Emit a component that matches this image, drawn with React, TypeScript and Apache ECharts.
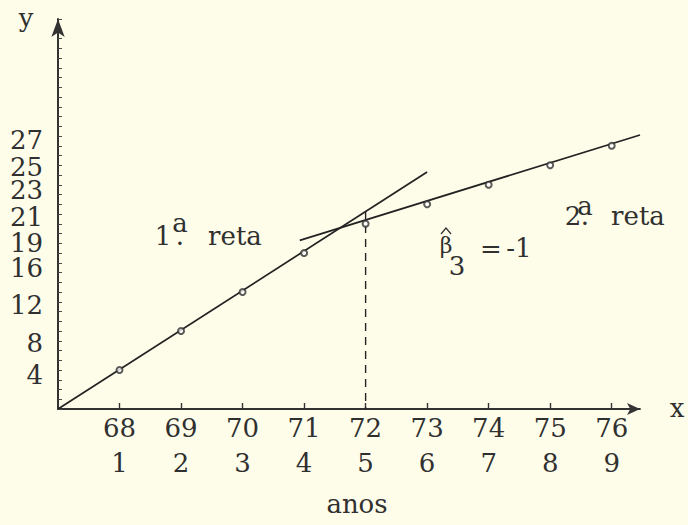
import React, { useEffect, useRef } from "react";
import * as echarts from "echarts";

// Years (two-digit) and their period index along the horizontal axis
const years = ["68", "69", "70", "71", "72", "73", "74", "75", "76"];
const periods = [1, 2, 3, 4, 5, 6, 7, 8, 9];
// Observed values y for each period
const yValues = [4, 8, 12, 16, 19, 21, 23, 25, 27];
// Values labelled on the vertical axis, spread over three label rows so close ones all stay visible
const yTicksA = [4, 12, 21, 27];
const yTicksB = [8, 16, 23];
const yTicksC = [19, 25];

// First fitted line (periods 1-4) and second fitted line (periods 5-9)
const reta1X = [0, 6];
const reta1Y = [0, 24.3];
const reta2X = [3.93, 9.46];
const reta2Y = [17.3, 28.1];

// Break point marked with a dashed vertical line
const breakX = 5;
const breakTop = 20.3;

const INK = "#303030";
const PAPER = "#fefdea";
const FONT = "DejaVu Serif, Liberation Serif, serif";
const FS = 26;

// Hand-typed label placement: vertical nudge (px, + = down) of each y label
const yLabelNudge: Record<number, number> = {
  4: 5,
  8: 12,
  12: 13,
  16: 15,
  19: 19,
  21: 13,
  23: 5,
  25: 2,
  27: -6,
};

const yRich: Record<string, any> = {};
Object.keys(yLabelNudge).forEach((k) => {
  const s = yLabelNudge[Number(k)];
  yRich[`l${k}`] = {
    fontFamily: FONT,
    fontSize: FS,
    color: INK,
    lineHeight: 20,
    padding: s >= 0 ? [2 * s, 0, 0, 0] : [0, 0, -2 * s, 0],
  };
});

const txt = (
  text: string,
  x: number,
  y: number,
  size: number,
  align: "left" | "center" | "right" = "center",
  lineHeight?: number
) => ({
  type: "text",
  silent: true,
  style: {
    text,
    x,
    y,
    font: `${size}px ${FONT}`,
    fill: INK,
    align,
    textAlign: align,
    verticalAlign: "middle",
    textVerticalAlign: "middle",
    ...(lineHeight ? { lineHeight } : {}),
  },
});

const yAxisBase = (labels: number[], main: boolean) => ({
  type: "value",
  position: "left",
  min: 0,
  max: 40,
  interval: 1,
  splitLine: { show: false },
  axisLine: {
    show: main,
    symbol: ["none", "arrow"],
    symbolSize: [10, 18],
    lineStyle: { color: "#333", width: 2 },
  },
  axisTick: {
    show: main,
    inside: true,
    length: 4,
    lineStyle: { color: "#444", width: 1 },
  },
  axisLabel: {
    customValues: labels,
    margin: 15,
    hideOverlap: false,
    showMinLabel: true,
    showMaxLabel: true,
    formatter: (v: number) => `{l${v}|${v}}`,
    rich: yRich,
  },
});

export default function App() {
  const ref = useRef<HTMLDivElement>(null);

  useEffect(() => {
    if (!ref.current) return;
    const chart = echarts.init(ref.current, null, { renderer: "svg" });

    const option = {
      animation: false,
      backgroundColor: PAPER,
      grid: { left: 58, right: 48, top: 19, bottom: 116, containLabel: false },
      xAxis: {
        type: "value",
        min: 0,
        max: 9.46,
        interval: 1,
        splitLine: { show: false },
        axisLine: {
          show: true,
          symbol: ["none", "arrow"],
          symbolSize: [9, 13],
          lineStyle: { color: "#333", width: 1.8 },
        },
        axisTick: {
          show: true,
          inside: true,
          length: 6,
          customValues: periods,
          lineStyle: { color: "#333", width: 1.4 },
        },
        axisLabel: {
          customValues: periods,
          margin: 1.5,
          fontFamily: FONT,
          fontSize: FS,
          lineHeight: 35,
          color: INK,
          formatter: (v: number) => {
            const i = periods.indexOf(v);
            return i < 0 ? "" : `${years[i]}\n${periods[i]}`;
          },
        },
      },
      yAxis: [
        yAxisBase(yTicksA, true),
        yAxisBase(yTicksB, false),
        yAxisBase(yTicksC, false),
      ],
      series: [
        {
          type: "line",
          data: reta1X.map((x, i) => [x, reta1Y[i]]),
          symbol: "none",
          lineStyle: { color: "#222", width: 1.7 },
          z: 2,
        },
        {
          type: "line",
          data: reta2X.map((x, i) => [x, reta2Y[i]]),
          symbol: "none",
          lineStyle: { color: "#222", width: 1.7 },
          z: 2,
        },
        {
          type: "line",
          data: [
            [breakX, breakTop],
            [breakX, 0],
          ],
          symbol: "none",
          lineStyle: { color: "#222", width: 1.4, type: [8, 6] },
          z: 2,
        },
        {
          type: "scatter",
          data: periods.map((p, i) => [p, yValues[i]]),
          symbol: "emptyCircle",
          symbolSize: 6,
          itemStyle: { color: "#333", borderWidth: 1.2 },
          z: 3,
        },
      ],
      graphic: [
        // axis names
        txt("y", 26, 18, FS),
        txt("x", 677, 408, FS),
        txt("anos", 357, 504, FS),
        // 1ª.reta  (ordinal "a" typed above the dot)
        txt("1", 163, 236, FS),
        txt("a\n.", 180, 229.5, FS, "center", 13),
        txt("reta", 235, 236, FS),
        // 2ª.reta
        txt("2", 573, 216, FS),
        txt("a\n.", 585, 211, FS, "center", 10),
        txt("reta", 638, 216, FS),
        // β̂3 = -1
        txt("\u03B2", 446, 245.5, 22),
        {
          type: "polyline",
          silent: true,
          shape: {
            points: [
              [441, 234],
              [446, 228],
              [451, 234],
            ],
          },
          style: { stroke: INK, lineWidth: 1.2, fill: "none" },
        },
        txt("3", 457, 266, FS),
        txt("=", 491, 249, FS),
        txt("-1", 519, 247.5, FS),
      ],
    };

    chart.setOption(option as any);
    return () => chart.dispose();
  }, []);

  return (
    <div
      ref={ref}
      style={{
        position: "fixed",
        left: 0,
        top: 0,
        width: 688,
        height: 525,
        background: PAPER,
      }}
    />
  );
}
